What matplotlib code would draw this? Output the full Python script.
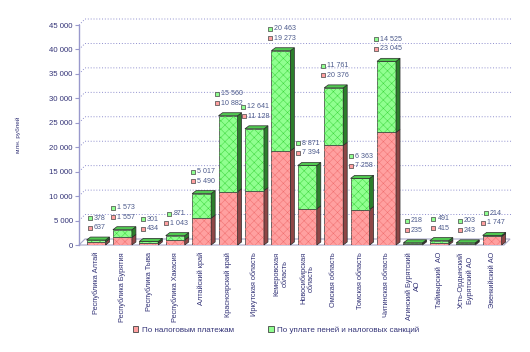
import numpy as np
import matplotlib
matplotlib.use("Agg")
import matplotlib.pyplot as plt
from matplotlib.patches import Polygon, Patch
from matplotlib.ticker import FuncFormatter

regions = ["Республика Алтай", "Республика Бурятия", "Республика Тыва", "Республика Хакасия",
           "Алтайский край", "Красноярский край", "Иркутская область", "Кемеровская\nобласть",
           "Новосибирская\nобласть", "Омская область", "Томская область", "Читинская область",
           "Агинский Бурятский\nАО", "Таймырский  АО", "Усть-Ордынский\nБурятский АО", "Эвенкийский АО"]
taxes = [637, 1557, 434, 1043, 5490, 10882, 11128, 19273, 7394, 20376, 7258, 23045, 235, 415, 243, 1747]
penalties = [378, 1573, 301, 871, 5017, 15560, 12641, 20463, 8871, 11761, 6363, 14525, 218, 491, 203, 214]
y_ticks = [0, 5000, 10000, 15000, 20000, 25000, 30000, 35000, 40000, 45000]
series_names = ["По налоговым платежам", "По уплате пеней и налоговых санкций"]

plt.rcParams['font.family'] = ['Liberation Sans', 'DejaVu Sans']
plt.rcParams['hatch.linewidth'] = 0.35
txt_col = '#333377'
lab_col = '#4D5B8C'
grid_col = '#8080C8'
axis_col = '#9999CC'

red_front, red_side, red_hatch = '#FFA0A0', '#8E4646', '#F07070'
grn_front, grn_side, grn_top, grn_hatch = '#90FF90', '#2C7E2C', '#50C850', '#40D840'

W, H = 530, 352
fig = plt.figure(figsize=(W / 100, H / 100), dpi=100)
ax = fig.add_axes([79 / W, 1 - 245 / H, 429 / W, 220 / H])
x = np.arange(len(regions))
x0, x1 = -0.644, 15.6
ax.set_xlim(x0, x1)
ax.set_ylim(0, 45000)

# data units per pixel
px_x = (x1 - x0) / 429
px_y = 45000 / 220

# back wall / floor (3d look)
wdx, wdy = 6 * px_x, 6 * px_y
xr = 15.45
floor = Polygon([(x0, 0), (xr, 0), (xr + wdx, wdy), (x0 + wdx, wdy)], closed=True,
                facecolor='white', edgecolor='#A8A8C8', lw=0.8, zorder=1, clip_on=False)
ax.add_patch(floor)
for v in y_ticks[1:]:
    ax.plot([x0, x0 + wdx, xr + wdx + 2 * px_x], [v, v + wdy, v + wdy], color=grid_col,
            lw=0.6, ls=(0, (1.2, 2.2)), zorder=1, clip_on=False)

# bars
bw = 0.72
hw = bw / 2
ddx, ddy = 4 * px_x, 3 * px_y


def box(xc, y0, y1, front, side, hatch_col, top=None):
    ax.bar(xc, y1 - y0, bw, bottom=y0, color=front, edgecolor='#3A3A3A', lw=0.5, zorder=3)
    ax.bar(xc, y1 - y0, bw, bottom=y0, color='none', edgecolor=hatch_col, lw=0, hatch='xxxx', zorder=3)
    ax.add_patch(Polygon([(xc + hw, y0), (xc + hw + ddx, y0 + ddy), (xc + hw + ddx, y1 + ddy), (xc + hw, y1)],
                         closed=True, facecolor=side, edgecolor='#2A2A2A', lw=0.5, zorder=3, clip_on=False))
    if top is not None:
        ax.add_patch(Polygon([(xc - hw, y1), (xc - hw + ddx, y1 + ddy), (xc + hw + ddx, y1 + ddy), (xc + hw, y1)],
                             closed=True, facecolor=top, edgecolor='#2A2A2A', lw=0.5, zorder=3, clip_on=False))


for i in range(len(regions)):
    t, p = taxes[i], penalties[i]
    box(x[i], 0, t, red_front, red_side, red_hatch)
    box(x[i], t, t + p, grn_front, grn_side, grn_hatch, top=grn_top)

# value labels with small square markers
fig.canvas.draw()
r = fig.canvas.get_renderer()


def fmt(v):
    return f"{int(v):,}".replace(",", " ")


for i in range(len(regions)):
    tot = taxes[i] + penalties[i]
    for val, col, off in [(penalties[i], grn_front, 22), (taxes[i], red_front, 12.5)]:
        yv = tot + off * px_y
        t = ax.text(0, yv, fmt(val), fontsize=5.1, color=lab_col, ha='left', va='center',
                    zorder=5, clip_on=False)
        w = t.get_window_extent(r).width
        left = x[i] + 1 * px_x - (w + 6) / 2 * px_x
        t.set_x(left + 6 * px_x)
        ax.scatter([left + 2 * px_x], [yv], marker='s', s=7, facecolor=col, edgecolor='#444444',
                   lw=0.5, zorder=5, clip_on=False)

# axes styling
for s in ['top', 'right', 'bottom']:
    ax.spines[s].set_visible(False)
ax.spines['left'].set_color(axis_col)
ax.spines['left'].set_linewidth(1.0)
ax.set_yticks(y_ticks)
ax.yaxis.set_major_formatter(FuncFormatter(lambda v, pos: fmt(v)))
ax.tick_params(axis='y', colors=axis_col, labelcolor=txt_col, labelsize=5.6, length=3, width=0.8, pad=1.5)
ax.set_xticks(x)
ax.set_xticklabels(regions, rotation=90, fontsize=5.3, color=txt_col, va='top', ha='center',
                   multialignment='center')
ax.tick_params(axis='x', length=0, pad=5)

fig.text(18 / W, 1 - 135 / H, 'млн. рублей', rotation=90, fontsize=4.6, color=txt_col,
         ha='center', va='center')

handles = [Patch(facecolor=red_front, edgecolor='#444444', lw=0.6, label=series_names[0]),
           Patch(facecolor=grn_front, edgecolor='#444444', lw=0.6, label=series_names[1])]
fig.legend(handles=handles, loc='center', bbox_to_anchor=(276 / W, 1 - 330 / H), ncol=2,
           frameon=False, fontsize=5.8, handlelength=0.7, handleheight=0.7, handletextpad=0.4,
           columnspacing=4.3, labelcolor=txt_col)

fig.savefig('out.png', dpi=100)
